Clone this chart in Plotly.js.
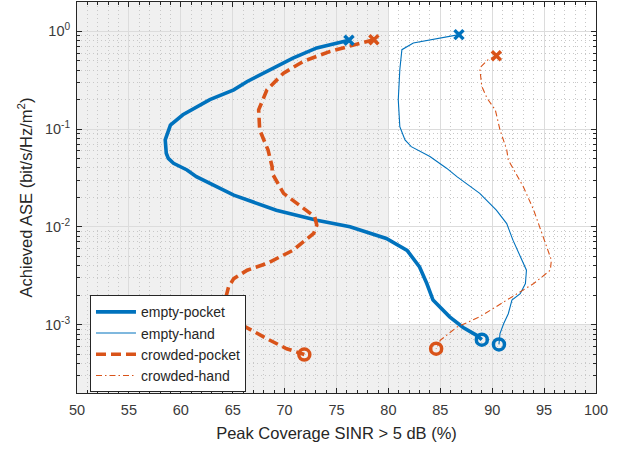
<!DOCTYPE html>
<html><head><meta charset="utf-8">
<script src="https://cdn.plot.ly/plotly-3.0.1.min.js"></script>
<style>html,body{margin:0;padding:0;background:#fff}#chart{width:626px;height:449px}</style>
</head><body><div id="chart"></div>
<script>
// empty-pocket
const epX = [76.2,75.0,73.1,70.8,68.6,66.4,65.1,62.8,60.2,59.0,58.5,58.6,58.8,59.3,60.6,61.5,65.1,69.2,73.1,76.3,79.8,81.8,83.0,83.7,84.3,85.9,87.2,88.5,89.0];
const epY = [0.809,0.760,0.676,0.533,0.405,0.307,0.252,0.200,0.140,0.110,0.0776,0.0566,0.0501,0.0447,0.0382,0.0326,0.0211,0.0148,0.0117,0.0100,0.00759,0.00575,0.00389,0.00263,0.00178,0.00120,0.000933,0.000776,0.000700];
// empty-hand
const ehX = [86.8,85.0,82.4,81.3,81.1,80.95,81.1,81.6,82.2,84.0,85.6,86.6,88.8,90.4,91.4,92.0,92.7,93.3,93.2,92.7,91.9,91.55,91.1,90.75,90.65];
const ehY = [0.925,0.855,0.760,0.649,0.405,0.200,0.106,0.0776,0.0661,0.0525,0.0398,0.0326,0.0220,0.0148,0.0108,0.00731,0.00492,0.00360,0.00263,0.00207,0.00178,0.00129,0.00102,0.000807,0.000627];
// crowded-pocket
const cpX = [78.6,76.9,74.4,71.8,69.9,68.3,67.5,67.6,68.4,68.8,68.8,69.9,71.8,72.9,73.1,72.8,70.8,68.3,66.4,65.1,64.6,64.35,64.6,65.8,67.15,68.3,70.2,71.9];
const cpY = [0.822,0.731,0.624,0.492,0.374,0.252,0.157,0.0982,0.0612,0.0412,0.0353,0.0220,0.0155,0.0127,0.0104,0.00855,0.00575,0.00422,0.00360,0.00295,0.00243,0.00191,0.00132,0.00100,0.000838,0.000716,0.000566,0.000494];
// crowded-hand
const chX = [90.4,89.6,88.8,89.0,89.5,90.3,90.75,91.4,91.55,92.0,93.0,94.0,94.9,95.7,95.6,94.0,91.4,88.8,86.6,85.0,84.6];
const chY = [0.564,0.513,0.422,0.273,0.207,0.157,0.0982,0.0612,0.0483,0.0398,0.0257,0.0148,0.00794,0.00457,0.00360,0.00263,0.00178,0.00120,0.000942,0.000692,0.000566];

const seriesNames = ['empty-pocket','empty-hand','crowded-pocket','crowded-hand'];
const xTicks = [50,55,60,65,70,75,80,85,90,95,100];
const yTicks = [1e-3,1e-2,1e-1,1];
const yTickText = ['10<sup>-3</sup>','10<sup>-2</sup>','10<sup>-1</sup>','10<sup>0</sup>'];

const BLUE = '#0072BD', ORANGE = '#D95319';
const yMinor = [];
for (let e = -4; e <= 0; e++) for (let m = 2; m <= 9; m++) yMinor.push(m * Math.pow(10, e));

const series = [
  {x: epX, y: epY, c: BLUE, w: 3.6, dash: 'solid'},
  {x: ehX, y: ehY, c: BLUE, w: 1.1, dash: 'solid'},
  {x: cpX, y: cpY, c: ORANGE, w: 3.6, dash: '10px,5px'},
  {x: chX, y: chY, c: ORANGE, w: 1.1, dash: '6px,3px,1.5px,3px'}
];
const traces = [];
series.forEach((s, i) => {
  traces.push({x: s.x, y: s.y, mode: 'lines', name: seriesNames[i],
    line: {color: s.c, width: s.w, dash: s.dash}, hoverinfo: 'skip'});
});
series.forEach((s, i) => {
  traces.push({x: [s.x[0]], y: [s.y[0]], mode: 'markers', showlegend: false,
    marker: {symbol: 'x-thin-open', size: 9, color: s.c, line: {color: s.c, width: 3.5}}});
  traces.push({x: [s.x[s.x.length-1]], y: [s.y[s.y.length-1]], mode: 'markers', showlegend: false,
    marker: {symbol: 'circle-open', size: 11, color: s.c, line: {color: s.c, width: 3.5}}});
});

const minorCommon = {showgrid: true, griddash: '1px,3px', gridcolor: '#c8c8c8', gridwidth: 1,
  ticks: 'inside', ticklen: 3, tickcolor: '#262626'};
const axisCommon = {
  showline: true, linecolor: '#262626', linewidth: 1, mirror: 'ticks',
  ticks: 'inside', ticklen: 5, tickcolor: '#262626', tickwidth: 1,
  showgrid: true, gridcolor: '#dcdcdc', gridwidth: 1, zeroline: false,
  tickfont: {family: 'Liberation Sans, Arial, sans-serif', size: 14.5, color: '#3a3a3a'},
};
const layout = {
  width: 626, height: 449,
  margin: {l: 77, r: 30, t: 2, b: 56},
  paper_bgcolor: '#fff', plot_bgcolor: '#fff',
  showlegend: true,
  font: {family: 'Liberation Sans, Arial, sans-serif', color: '#262626'},
  xaxis: Object.assign({}, axisCommon, {
    range: [50, 100], tickmode: 'array', tickvals: xTicks, ticktext: xTicks.map(String),
    ticklabelstandoff: 4,
    minor: Object.assign({dtick: 1}, minorCommon),
    title: {text: 'Peak Coverage SINR > 5 dB (%)', font: {size: 16.5, color: '#262626'}, standoff: 10}
  }),
  yaxis: Object.assign({}, axisCommon, {
    type: 'log', range: [-3.7, 0.3], tickmode: 'array', tickvals: yTicks, ticktext: yTickText,
    ticklabelstandoff: 3,
    minor: Object.assign({tickmode: 'array', tickvals: yMinor}, minorCommon),
    title: {text: 'Achieved ASE (bit/s/Hz/m<sup>2</sup>)', font: {size: 16.5, color: '#262626'}, standoff: 8}
  }),
  shapes: [
    {type: 'rect', layer: 'below', xref: 'x', yref: 'paper', x0: 50, x1: 80, y0: 0, y1: 1, fillcolor: '#f0f0f0', line: {width: 0}},
    {type: 'rect', layer: 'below', xref: 'x', yref: 'paper', x0: 80, x1: 100, y0: 0, y1: 0.175, fillcolor: '#f0f0f0', line: {width: 0}}
  ],
  legend: {x: 0.025, y: 0.25, xanchor: 'left', yanchor: 'top', bgcolor: '#fff',
    bordercolor: '#262626', borderwidth: 1, font: {size: 14, color: '#262626'},
    tracegroupgap: 0, itemwidth: 40}
};
Plotly.newPlot('chart', traces, layout, {displayModeBar: false, staticPlot: true});
</script></body></html>
